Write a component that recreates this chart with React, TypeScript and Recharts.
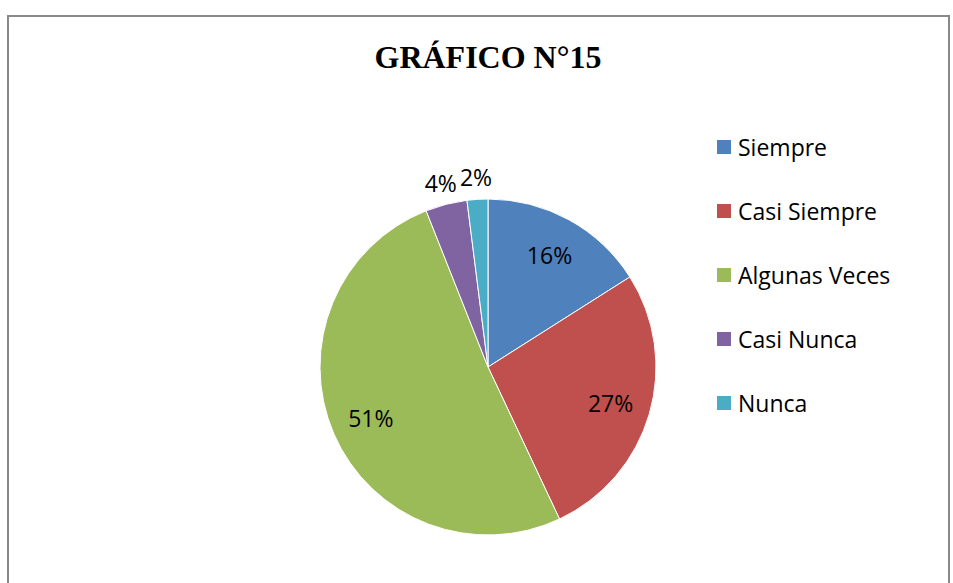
import { Cell, Legend, Pie, PieChart } from "recharts";

// GRÁFICO N°15 — pie of answer frequencies, Office 2007 palette.

const categories = ["Siempre", "Casi Siempre", "Algunas Veces", "Casi Nunca", "Nunca"];
const percents = [16, 27, 51, 4, 2];
const colors = ["#4F81BD", "#C0504D", "#9BBB59", "#8064A2", "#4BACC6"];

const data = categories.map((name, i) => ({ name, value: percents[i] }));

const RAD = Math.PI / 180;
const FONT = "'Open Sans', sans-serif";

function renderLabel(props: any) {
  const { cx, cy, midAngle, outerRadius, value } = props;
  const small = value < 10;
  const r = small ? outerRadius + 22 : outerRadius * 0.76;
  const x = cx + r * Math.cos(-midAngle * RAD);
  const y = cy + r * Math.sin(-midAngle * RAD);
  return (
    <text
      x={x}
      y={y}
      textAnchor="middle"
      dominantBaseline="central"
      fontFamily={FONT}
      fontSize={23}
      fill="#000"
    >
      {`${value}%`}
    </text>
  );
}

function renderLegend() {
  return (
    <div style={{ fontFamily: FONT, fontSize: 23, color: "#000" }}>
      {data.map((d, i) => (
        <div
          key={d.name}
          style={{ display: "flex", alignItems: "center", height: 64, whiteSpace: "nowrap" }}
        >
          <span
            style={{
              display: "inline-block",
              width: 14,
              height: 14,
              background: colors[i],
              marginRight: 7,
            }}
          />
          {d.name}
        </div>
      ))}
    </div>
  );
}

export default function App() {
  return (
    <div style={{ position: "fixed", inset: 0, overflow: "hidden", background: "#fff" }}>
      <div
        style={{
          position: "absolute",
          left: 7,
          top: 15,
          width: 943,
          height: 620,
          border: "2px solid #898989",
          boxSizing: "border-box",
        }}
      />
      <div
        style={{
          position: "absolute",
          left: 0,
          top: 37,
          width: 976,
          textAlign: "center",
          fontFamily: "'Liberation Serif', 'Times New Roman', serif",
          fontWeight: "bold",
          fontSize: 32,
          lineHeight: "40px",
        }}
      >
        GRÁFICO N°15
      </div>
      <div style={{ position: "absolute", left: 0, top: 0 }}>
        <PieChart width={953} height={583}>
          <Pie
            data={data}
            dataKey="value"
            nameKey="name"
            cx={483}
            cy={362}
            outerRadius={168}
            startAngle={90}
            endAngle={-270}
            stroke="#fff"
            strokeWidth={1}
            label={renderLabel}
            labelLine={false}
            isAnimationActive={false}
          >
            {data.map((d, i) => (
              <Cell key={d.name} fill={colors[i]} />
            ))}
          </Pie>
          <Legend
            content={renderLegend}
            wrapperStyle={{ left: 717, top: 115, width: 230 }}
          />
        </PieChart>
      </div>
    </div>
  );
}
